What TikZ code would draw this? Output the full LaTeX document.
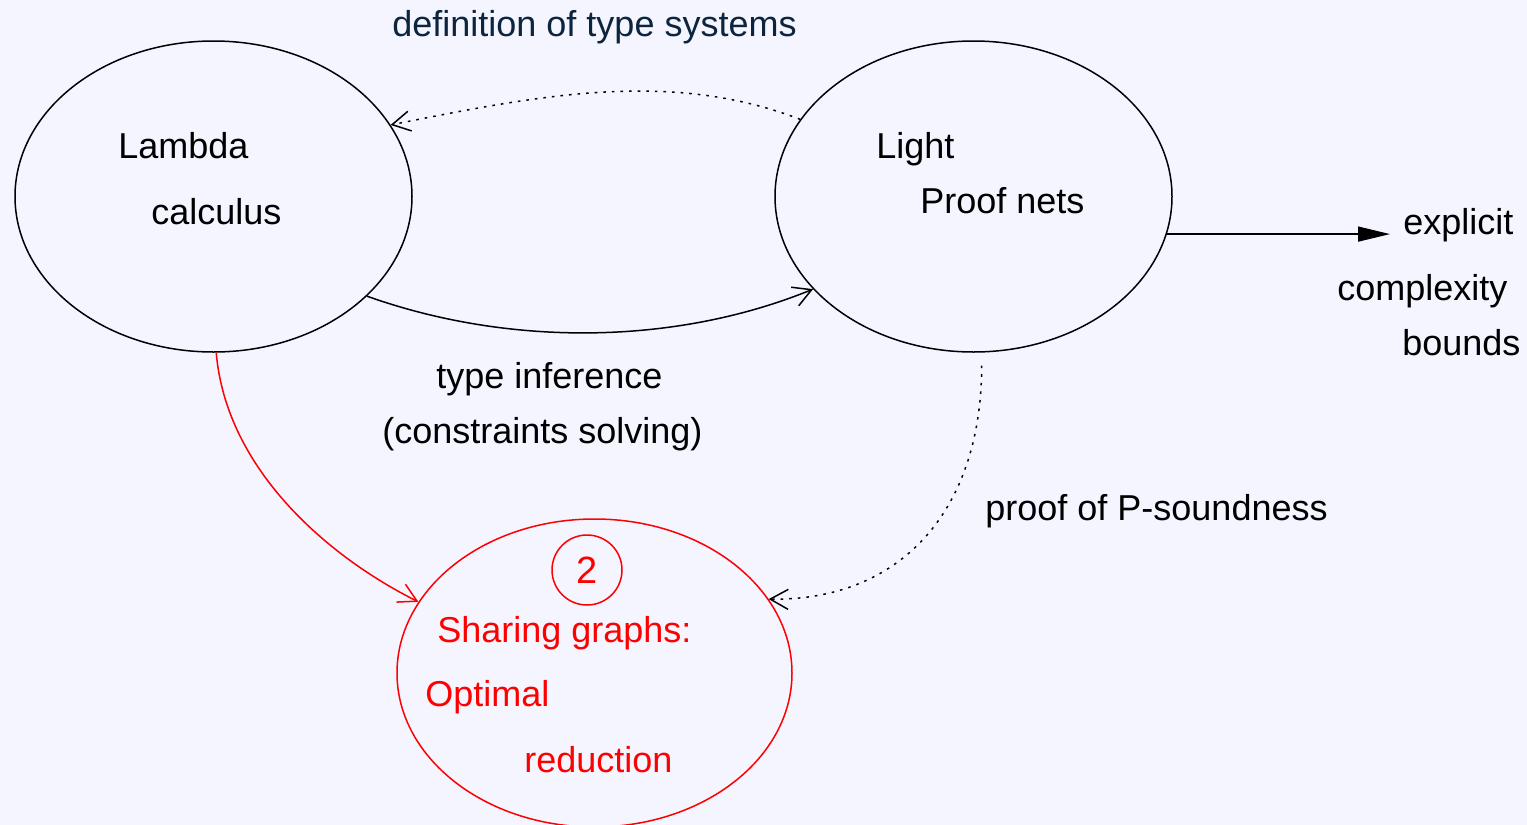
\documentclass[tikz,border=0pt]{standalone}
\usepackage{fontspec}
\setmainfont{Liberation Sans}
\usetikzlibrary{shapes.geometric,arrows.meta}
\definecolor{bgcol}{RGB}{244,245,255}
\definecolor{navy}{RGB}{12,36,62}
\tikzset{
  blob/.style={ellipse, draw, line width=0.75pt, inner sep=0pt,
    minimum width=198.5pt, minimum height=155.5pt},
  lbl/.style={anchor=base west, inner sep=0pt, font=\fontsize{18}{21}\selectfont},
  link/.style={line width=0.75pt, -{Straight Barb[length=9pt,width=10pt,line width=0.75pt]}},
  dots/.style={dash pattern=on 1.3pt off 3pt},
}
\begin{document}
\begin{tikzpicture}[x=0.5pt,y=-0.5pt]
  \fill[bgcol] (0,0) rectangle (1527,825);
  \useasboundingbox (0,0) rectangle (1527,825);

  % the three ellipses
  \node[blob] (lam) at (213.5,196.5) {};
  \node[blob] (light) at (973.5,196.5) {};
  \node[blob, red, minimum width=197.5pt, minimum height=154pt] (share) at (594.5,673) {};
  \node[circle, draw=red, line width=0.75pt, minimum size=35pt, inner sep=0pt,
        text=red, font=\fontsize{19}{22}\selectfont] (two) at (587,570) {2};

  % texts inside the ellipses
  \node[lbl] (lamA) at (118,158) {Lambda};
  \node[lbl] (lamB) at (151,224) {calculus};
  \node[lbl] (litA) at (876,158) {Light};
  \node[lbl] (litB) at (920,213) {Proof nets};
  \node[lbl, text=red] (shA) at (437,642) {Sharing graphs:};
  \node[lbl, text=red] (shB) at (425,706) {Optimal};
  \node[lbl, text=red] (shC) at (524,772) {reduction};

  % edge labels
  \node[lbl, text=navy] (defts) at (392,36) {definition of type systems};
  \node[lbl] (tinf) at (436,388) {type inference};
  \node[lbl] (csol) at (382,443) {(constraints solving)};
  \node[lbl] (psnd) at (985,520) {proof of P-soundness};
  \node[lbl] (expA) at (1403,234) {explicit};
  \node[lbl] (expB) at (1337,300) {complexity};
  \node[lbl] (expC) at (1402,355) {bounds};

  % connectors
  \coordinate (tip) at (1390,234);
  \draw[link, dots] (light.156.6) .. controls +(-130,-50) and +(150,-30) .. (lam.22);
  \draw[link] (lam.-33) .. controls +(140,50) and +(-140,57) .. (light.-150.5);
  \draw[line width=0.75pt, -{Triangle[length=16pt,width=7.5pt]}]
    (light.-11) -- (light.-11 -| tip);
  \draw[link, dots, shorten <=6.5pt] (light.-87) .. controls +(0,160) and +(130,2) .. (share.23);
  \draw[link, red] (lam.-89) .. controls +(10,117) and +(-90,-45) .. (share.158.7);
\end{tikzpicture}
\end{document}
